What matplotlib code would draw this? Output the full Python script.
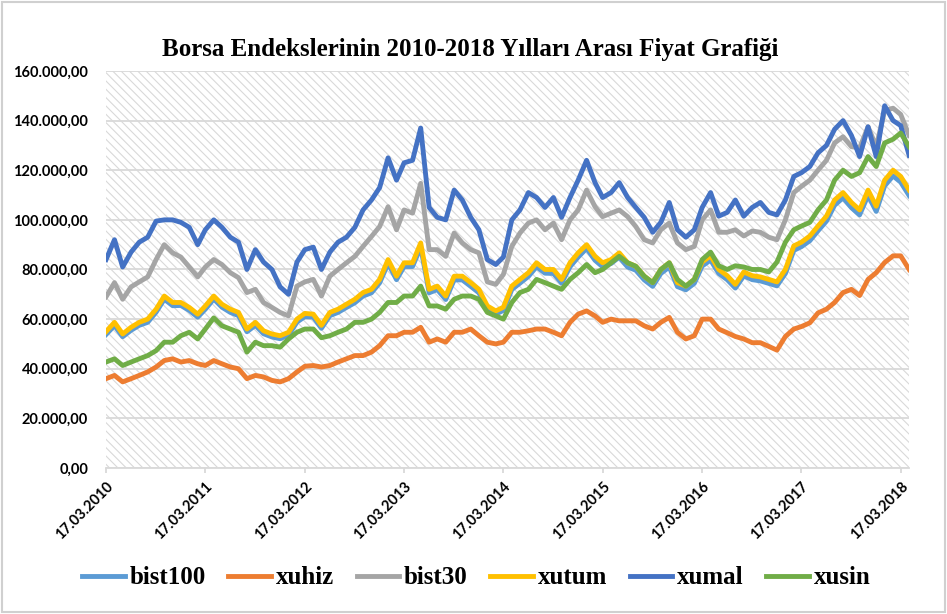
import numpy as np
import pandas as pd
import matplotlib
matplotlib.use("Agg")
import matplotlib.pyplot as plt
from matplotlib.patches import Rectangle
from matplotlib.ticker import FuncFormatter

# aylik degerler (bin TL), 17.03.2010 - 17.04.2018
dates = pd.date_range("2010-03-17", "2018-04-17", freq=pd.DateOffset(months=1))

bist100 = [
    53.8, 57.4, 52.9, 55.5, 57.5, 58.7, 62.8, 68.0, 65.4, 65.5, 63.5, 60.8, 64.0, 68.1, 64.8, 62.7, 61.4, 54.9, 57.5, 54.1, 52.8, 52.1, 53.5, 58.8, 61.0,
    60.8, 56.3, 61.4, 62.7, 64.7, 66.6, 69.3, 70.6, 74.6, 82.5, 75.9, 81.2, 81.2, 89.0, 70.6, 71.9, 67.9, 75.8, 75.8, 73.2, 70.6, 64.0, 62.0, 63.5,
    71.9, 74.5, 77.2, 81.1, 78.5, 78.4, 74.5, 81.1, 85.0, 88.5, 83.7, 81.1, 82.4, 85.0, 81.0, 79.7, 75.8, 73.2, 78.4, 81.0, 73.1, 71.8, 74.4, 81.4,
    83.8, 78.4, 75.9, 72.5, 77.4, 75.9, 75.4, 74.4, 73.4, 78.4, 87.7, 89.2, 91.6, 95.6, 99.5, 105.9, 108.9, 104.9, 102.0, 109.9, 103.4, 113.7, 117.7, 115.2, 109.8]
xuhiz = [
    36, 37.3, 34.7, 36, 37.3, 38.7, 40.7, 43.3, 44, 42.7, 43.3, 42, 41.3, 43.3, 42, 40.7, 40, 36, 37.3, 36.7, 35.3, 34.7, 36, 38.7, 41,
    41.3, 40.7, 41.3, 42.7, 44, 45.3, 45.3, 46.7, 49.3, 53.3, 53.3, 54.7, 54.7, 56.7, 50.7, 52, 50.7, 54.7, 54.7, 56, 53.3, 50.7, 50, 50.7,
    54.7, 54.7, 55.3, 56, 56, 54.7, 53.3, 58.7, 62, 63.3, 61.3, 58.7, 60, 59.3, 59.3, 59.3, 57.3, 56, 58.7, 60.7, 54.7, 52, 53.3, 60,
    60, 56, 54.5, 53, 52, 50.5, 50.5, 49, 47.5, 53, 56, 57, 58.5, 62.5, 64, 66.7, 70.7, 72, 69.5, 76, 78.7, 82.8, 85.5, 85.5, 80]
bist30 = [
    69, 74.7, 68, 73, 75, 77, 84, 90, 86.7, 85, 81, 77, 81, 84, 82, 78.7, 76.7, 70.7, 72, 66.7, 64.7, 62.7, 61.3, 73.3, 75,
    76, 69.3, 77.3, 80, 82.7, 85.3, 89.3, 93.3, 97.3, 105.3, 96, 104, 102.7, 114.7, 88, 88, 85.3, 94.7, 90.7, 88, 86.7, 75, 74, 78,
    89.3, 94.7, 98.7, 100, 96, 98.7, 92, 100, 104, 112, 105.3, 101.3, 102.7, 104, 101.3, 97.3, 92, 90.7, 96, 98.7, 90.7, 88, 89.3, 100,
    104, 95, 95, 96, 93.5, 95.5, 95, 93, 92, 100, 111, 113.5, 116, 120, 124, 131, 133.5, 129.5, 129, 137.5, 129.5, 144, 145, 142.5, 134]
xutum = [
    55, 58.7, 54, 56.7, 58.7, 60, 64, 69.3, 66.7, 66.7, 64.7, 62, 65.3, 69.3, 66, 64, 62.7, 56, 58.7, 55.3, 54, 53.3, 54.7, 60, 62.3,
    62, 57.5, 62.7, 64, 66, 68, 70.7, 72, 76, 84, 77.3, 82.7, 82.7, 90.7, 72, 73.3, 69.3, 77.3, 77.3, 74.7, 72, 65.3, 63.3, 64.8,
    73.3, 76, 78.7, 82.7, 80, 80, 76, 82.7, 86.7, 90, 85.3, 82.7, 84, 86.7, 82.7, 81.3, 77.3, 74.7, 80, 82.7, 74.7, 73.3, 76, 83,
    85.5, 80, 77.5, 74, 79, 77.5, 77, 76, 75, 80, 89.5, 91, 93.5, 97.5, 101.5, 108, 111, 107, 104, 112, 105.5, 116, 120, 117.5, 112]
xumal = [
    84, 92, 81, 87, 91, 93, 99.5, 100, 100, 99, 97, 90, 96, 100, 97, 93, 91, 80, 88, 83, 80, 73, 70, 83, 88,
    89, 80, 87, 91, 93, 97, 104, 108, 113, 125, 116, 123, 124, 137, 105, 101, 100, 112, 108, 101, 96, 84, 82, 85,
    100, 104, 111, 109, 105, 109, 101, 109, 116, 124, 115, 109, 111, 115, 109, 105, 101, 95, 99, 107, 96, 93, 96, 105,
    111, 101.5, 103, 108, 101.5, 105, 107, 103, 102, 108, 117.5, 119, 121.5, 127, 130, 136.5, 140, 134, 125.5, 137.5, 125.5, 146, 140, 138, 126]
xusin = [
    42.7, 44, 41.3, 42.7, 44, 45.3, 47.3, 50.7, 50.7, 53.3, 54.7, 52, 56, 60.5, 57.3, 56, 54.7, 46.7, 50.7, 49.3, 49.3, 48.7, 52, 54.7, 56,
    56, 52.5, 53.3, 54.7, 56, 58.7, 58.7, 60, 62.7, 66.7, 66.7, 69.3, 69.3, 73.3, 65.3, 65.3, 64, 68, 69.3, 69.3, 68, 62.7, 61.3, 60,
    66.7, 70.7, 72, 76, 74.7, 73.3, 72, 76, 78.7, 82, 78.7, 80, 82.7, 85.3, 82.7, 81.3, 77.3, 74.7, 80, 82.7, 76, 73.3, 76, 84,
    87, 81.5, 80, 81.5, 81, 80, 80, 79, 83, 91, 96, 97.5, 99, 104, 108, 116, 120, 117.5, 119, 125.5, 121.5, 131, 132.5, 135, 129.5]

series = [("bist100", bist100, "#5B9BD5"), ("xuhiz", xuhiz, "#ED7D31"),
          ("bist30", bist30, "#A5A5A5"), ("xutum", xutum, "#FFC000"),
          ("xumal", xumal, "#4472C4"), ("xusin", xusin, "#70AD47")]

tick_labels = ["17.03.2010", "17.03.2011", "17.03.2012", "17.03.2013", "17.03.2014",
               "17.03.2015", "17.03.2016", "17.03.2017", "17.03.2018"]

fig = plt.figure(figsize=(9.47, 6.14), dpi=100)
ax = fig.add_axes([0.112, 0.2378, 0.848, 0.6466])

# tarali arka plan
plt.rcParams["hatch.linewidth"] = 0.8
ax.add_patch(Rectangle((0, 0), 1, 1, transform=ax.transAxes, facecolor="white",
                       edgecolor="#d9d9d9", hatch="\\\\\\\\", lw=0, zorder=0))

for name, vals, col in series:
    ax.plot(dates, np.array(vals) * 1000, color=col, lw=3.5, label=name,
            solid_joinstyle="round", zorder=3)

ax.set_ylim(0, 160000)
ax.set_yticks(np.arange(0, 160001, 20000))
ax.yaxis.set_major_formatter(FuncFormatter(
    lambda v, p: f"{v:,.2f}".replace(",", "X").replace(".", ",").replace("X", ".")))
ax.set_xlim(dates[0], dates[-1])
ax.set_xticks(pd.to_datetime(tick_labels, format="%d.%m.%Y"))
ax.set_xticklabels(tick_labels, rotation=45, ha="right", va="top",
                   rotation_mode="anchor")
ax.grid(axis="y", color="#d9d9d9", lw=1.3, zorder=1)
ax.set_axisbelow(True)
for s in ["left", "right", "top"]:
    ax.spines[s].set_visible(False)
ax.spines["bottom"].set_color("#d9d9d9")
ax.spines["bottom"].set_linewidth(1.3)
ax.tick_params(axis="x", length=3.5, color="#d9d9d9", width=1.3, pad=5)
ax.tick_params(axis="y", length=0, pad=13)
for lab in ax.get_xticklabels() + ax.get_yticklabels():
    lab.set_fontfamily("Lato")
    lab.set_fontweight("bold")
    lab.set_fontsize(10.5)

fig.suptitle("Borsa Endekslerinin 2010-2018 Yılları Arası Fiyat Grafiği",
             x=0.497, y=0.938, fontsize=18, fontweight="bold",
             family="Liberation Serif")

leg = fig.legend(loc="center", bbox_to_anchor=(0.503, 0.059), ncol=6, frameon=False,
                 prop={"family": "Liberation Serif", "weight": "bold", "size": 18},
                 handlelength=1.7, handletextpad=0.2, columnspacing=0.9)
for h in leg.get_lines():
    h.set_linewidth(3.5)

fig.add_artist(Rectangle((0.002, 0.003), 0.996, 0.994, transform=fig.transFigure,
                         fill=False, edgecolor="#d0d0d0", lw=1.5))

fig.savefig("out.png", dpi=100)
